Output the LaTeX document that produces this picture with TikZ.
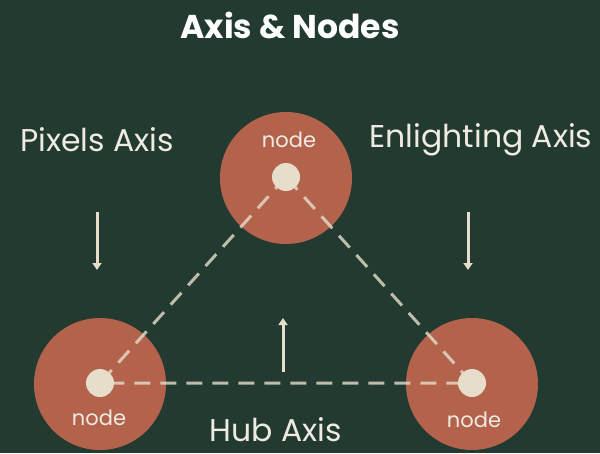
\documentclass[tikz,border=0pt]{standalone}
\usepackage{fontspec}
\setmainfont{Poppins}
\usetikzlibrary{arrows.meta}
\definecolor{bgc}{HTML}{223A2F}
\definecolor{bigc}{HTML}{B3634B}
\definecolor{dotc}{HTML}{E6DDCB}
\definecolor{txtc}{HTML}{EFEBE3}
\tikzset{
  bigdisc/.style={circle,fill=bigc,minimum size=132pt,inner sep=0pt},
  dotdisc/.style={circle,fill=dotc,minimum size=28pt,inner sep=0pt},
  nodelbl/.style={text=txtc,font=\fontsize{21}{21}\selectfont},
  axislbl/.style={text=txtc,font=\fontsize{31.5}{32}\selectfont},
  link/.style={draw=dotc,draw opacity=0.8,line width=3pt,dash pattern=on 16pt off 10pt},
  pointer/.style={draw=dotc,line width=3pt,-{Triangle[width=9pt,length=7pt]}}
}
\begin{document}
\begin{tikzpicture}[x=1pt,y=-1pt]
\fill[bgc] (0,0) rectangle (600,453);
\useasboundingbox (0,0) rectangle (600,453);
\node[text=white,font=\fontsize{33}{33}\selectfont\bfseries] (title) at (290,25) {Axis \& Nodes};
\node[bigdisc] (ct) at (286,178) {};
\node[bigdisc] (cl) at (100,384) {};
\node[bigdisc] (cr) at (472,384) {};
\path[link] (286,177) -- (100,383) -- (472,383) -- cycle;
\node[dotdisc] (dt) at (286,177) {};
\node[dotdisc] (dl) at (100,383) {};
\node[dotdisc] (dr) at (472,383) {};
\node[nodelbl] (lt) at (289,140) {node};
\node[nodelbl] (ll) at (99,418) {node};
\node[nodelbl] (lr) at (474,420) {node};
\node[axislbl] (pa) at (97,140) {Pixels Axis};
\node[axislbl] (ea) at (481,140) {Enlighting Axis};
\node[axislbl] (ha) at (276,430) {Hub Axis};
\coordinate (a1s) at (97,212); \coordinate (a1e) at (97,270);
\coordinate (a2s) at (468,212); \coordinate (a2e) at (468,270);
\coordinate (a3s) at (283,372); \coordinate (a3e) at (283,318);
\draw[pointer] (a1s) -- (a1e);
\draw[pointer] (a2s) -- (a2e);
\draw[pointer] (a3s) -- (a3e);
\end{tikzpicture}
\end{document}
